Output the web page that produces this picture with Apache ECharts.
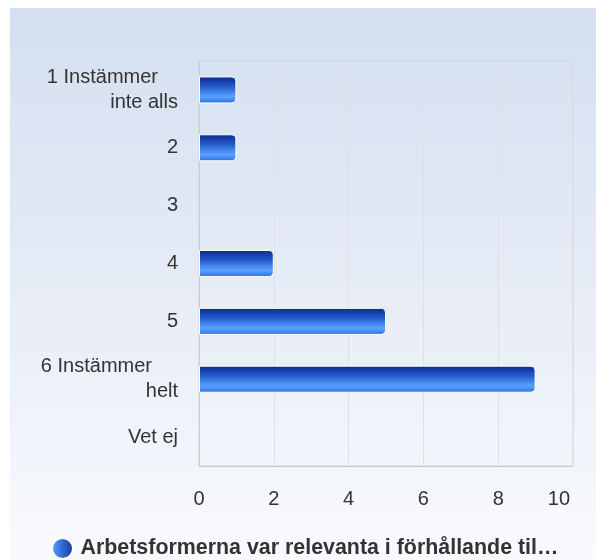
<!DOCTYPE html>
<html>
<head>
<meta charset="utf-8">
<script src="https://cdn.jsdelivr.net/npm/echarts@6/dist/echarts.min.js"></script>
<style>
  html, body { margin: 0; padding: 0; background: #ffffff; }
  #wrap { position: relative; width: 596px; height: 560px; overflow: hidden; }
  #bg { position: absolute; left: 10px; top: 8px; right: 0; bottom: 0;
        background: linear-gradient(to bottom, #d3dff0 0%, #e6ecf6 50%, #f9fafd 100%); }
  #chart { position: absolute; left: 0; top: 0; width: 596px; height: 560px; }
</style>
</head>
<body>
<div id="wrap">
  <div id="bg"></div>
  <div id="chart"></div>
</div>
<script>
// Answer categories (top to bottom) and number of responses
const categories = ['1 Instämmer\ninte alls', '2', '3', '4', '5', '6 Instämmer\nhelt', 'Vet ej'];
const counts = [1, 1, 0, 2, 5, 9, 0];
const seriesName = 'Arbetsformerna var relevanta i förhållande til…';
const xTicks = { min: 0, max: 10, interval: 2 };

const font = '"Liberation Sans", Arial, Helvetica, sans-serif';

const barFill = new echarts.graphic.LinearGradient(0, 0, 0, 1, [
  { offset: 0, color: '#0b2a8a' },
  { offset: 0.35, color: '#2257c8' },
  { offset: 0.75, color: '#5aa2ff' },
  { offset: 1, color: '#2c6fe0' }
]);
const legendFill = new echarts.graphic.LinearGradient(0, 0, 1, 0, [
  { offset: 0, color: '#66a8f6' },
  { offset: 0.5, color: '#3068d6' },
  { offset: 1, color: '#173596' }
]);

// Two-line category labels: the first line sits a little further from the axis
function categoryLabel(v, idx) {
  const parts = v.split('\n');
  if (parts.length < 2) return v;
  const style = idx === 0 ? 'firstA' : 'firstB';
  return '{' + style + '|' + parts[0] + '}\n{second|' + parts[1] + '}';
}
const lineStyle = { fontSize: 20, lineHeight: 25, color: '#333333', fontFamily: font };

const chart = echarts.init(document.getElementById('chart'), null, { renderer: 'canvas' });
chart.setOption({
  animation: false,
  textStyle: { fontFamily: font },
  grid: { left: 199, top: 61, right: 23, bottom: 94, containLabel: false },
  xAxis: {
    type: 'value',
    min: xTicks.min, max: xTicks.max, interval: xTicks.interval,
    axisLine: { show: true, lineStyle: { color: '#cccccc', width: 1 } },
    axisTick: { show: false },
    axisLabel: {
      color: '#333333', fontSize: 20, margin: 23, fontFamily: font,
      alignMaxLabel: 'right',
      formatter: v => v === xTicks.max ? '{end|' + v + '}' : String(v),
      rich: { end: { fontSize: 20, color: '#333333', fontFamily: font, padding: [0, 3, 0, 0] } }
    },
    splitLine: { show: true, lineStyle: { color: '#e0e0e0', width: 1 } }
  },
  yAxis: {
    type: 'category',
    inverse: true,
    data: categories,
    axisLine: { show: true, lineStyle: { color: '#cccccc', width: 1 } },
    axisTick: { show: false },
    axisLabel: {
      color: '#333333', fontSize: 20, margin: 21, lineHeight: 25, fontFamily: font,
      formatter: categoryLabel,
      rich: {
        firstA: Object.assign({ padding: [0, 20, 0, 0] }, lineStyle),
        firstB: Object.assign({ padding: [0, 26, 0, 0] }, lineStyle),
        second: lineStyle
      }
    }
  },
  graphic: [{
    type: 'rect',
    shape: { x: 199, y: 61, width: 374, height: 405 },
    style: { fill: 'none', stroke: '#d4d4d4', lineWidth: 1 },
    silent: true, z: 0
  }],
  legend: {
    left: 51, top: 537, padding: 0,
    itemWidth: 22, itemHeight: 21,
    icon: 'circle',
    data: [{ name: seriesName, itemStyle: { color: legendFill } }],
    textStyle: { color: '#333333', fontSize: 21.4, fontWeight: 'bold', fontFamily: font, padding: [0, 0, 0, 2] },
    selectedMode: false
  },
  series: [{
    name: seriesName,
    type: 'bar',
    data: counts.map(v => ({ value: v, itemStyle: { borderWidth: v === 0 ? 0 : 1 } })),
    barWidth: 27,
    itemStyle: {
      color: barFill,
      borderColor: '#ffffff',
      borderWidth: 1,
      borderRadius: [0, 4, 4, 0]
    }
  }]
});
</script>
</body>
</html>
